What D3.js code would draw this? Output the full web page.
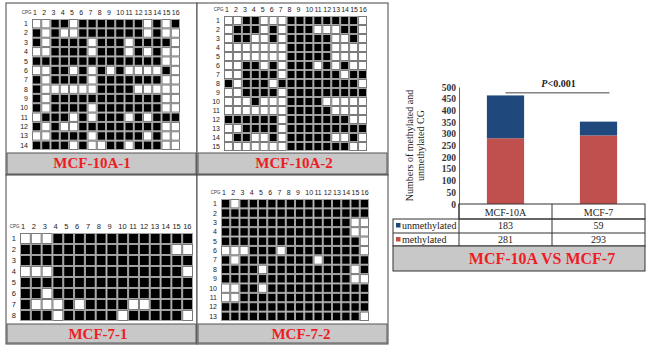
<!DOCTYPE html>
<html>
<head>
<meta charset="utf-8">
<script src="https://cdn.jsdelivr.net/npm/d3@7"></script>
<style>
  body { margin: 0; background: #fff; }
  svg { display: block; }
</style>
</head>
<body>
<svg id="fig" width="650" height="351"></svg>
<script>
// ---- methylation grids: 1 = methylated (black), 0 = unmethylated (white) ----
const grid10A1 = [
  '0011011111110101',
  '1010011111110100',
  '1011110111011110',
  '0011110111010100',
  '1111111111111100',
  '0011010101000010',
  '1011110111111100',
  '1000000111100000',
  '1011111111111100',
  '1011110111111100',
  '0111010111010111',
  '1010011111111100',
  '0011110111110100',
  '1111010011011100'
]
const grid10A2 = [
  '0011000111111110',
  '0111010111000110',
  '0110010111110010',
  '0000000111110000',
  '0000000111110000',
  '0011010111010100',
  '0011110111111011',
  '1011101111111110',
  '0011110111111111',
  '0001000111100000',
  '0000000111110000',
  '1111110111111100',
  '0011110111111111',
  '0110010111110010',
  '0000000111111100'
]
const grid7_1 = [
  '0001111111111111',
  '1111111111111100',
  '1111111111111111',
  '0001111111111110',
  '1111111111111111',
  '1101111111111111',
  '1000101111001111',
  '1110111110111110'
]
const grid7_2 = [
  '1011111111111111',
  '1111111111111111',
  '1111111111111100',
  '1111111111111100',
  '1111111111111110',
  '0001110111111110',
  '1011111111011111',
  '1111011111111101',
  '1111111111111100',
  '0011011111111111',
  '0011111111111111',
  '1111111111111111',
  '1111111111111110'
]
const cpgSites = d3.range(1, 17)

// ---- bar chart ----
const barCategories = ['MCF-10A', 'MCF-7']
const unmethylated = [183, 59]
const methylated = [281, 293]
const yTicks = [0, 50, 100, 150, 200, 250, 300, 350, 400, 450, 500]
const pLabel = 'P<0.001'

const SERIF = "'Liberation Serif', 'Times New Roman', serif"
const SANS = "'Liberation Sans', Arial, sans-serif"
const RED_TXT = '#ee1c25'
const BLUE = '#1f497d'
const RED = '#c0504d'
const GREY = '#c8c8c8'

const svg = d3.select('#fig')

/* ----------  PANEL FRAMES  ---------- */
const panels = [
  { x: 6, y: 3, w: 191, h: 172, barY: 153, label: 'MCF-10A-1', lx: 92, ly: 168 },
  { x: 197, y: 3, w: 191, h: 172, barY: 153, label: 'MCF-10A-2', lx: 294, ly: 168 },
  { x: 6, y: 175, w: 191, h: 169, barY: 324, label: 'MCF-7-1', lx: 98, ly: 339 },
  { x: 197, y: 175, w: 191, h: 169, barY: 324, label: 'MCF-7-2', lx: 301, ly: 339 }
]

panels.forEach(p => {
  svg.append('rect')
    .attr('x', p.x).attr('y', p.y)
    .attr('width', p.w).attr('height', p.h)
    .attr('fill', '#fff').attr('stroke', '#444').attr('stroke-width', 1)
  svg.append('rect')
    .attr('x', p.x + 1).attr('y', p.barY)
    .attr('width', p.w - 2).attr('height', p.y + p.h - p.barY - 1)
    .attr('fill', GREY).attr('stroke', '#555').attr('stroke-width', 1)
  svg.append('text')
    .attr('x', p.lx).attr('y', p.ly)
    .attr('text-anchor', 'middle')
    .style('font-family', SERIF).style('font-size', '15px').style('font-weight', 'bold')
    .attr('fill', RED_TXT)
    .text(p.label)
})

/* ----------  GRIDS  ---------- */
function drawGrid (rows, box) {
  const g = svg.append('g')
  const x = d3.scaleBand().domain(cpgSites).range([box.x0, box.x1])
  const y = d3.scaleBand().domain(d3.range(1, rows.length + 1)).range([box.y0, box.y1])

  // column header
  g.selectAll('text.col').data(cpgSites).join('text')
    .attr('x', d => x(d) + 1)
    .attr('y', box.y0 - 4)
    .style('font-family', SANS).style('font-size', box.fs + 'px')
    .attr('fill', '#222')
    .text(d => d)
  g.append('text')
    .attr('x', box.x0 - 0.5).attr('y', box.y0 - 5)
    .attr('text-anchor', 'end')
    .style('font-family', SANS).style('font-size', '4.5px')
    .attr('fill', '#333')
    .text('CPG')

  // row labels
  g.selectAll('text.row').data(y.domain()).join('text')
    .attr('x', box.x0 - 4)
    .attr('y', d => y(d) + y.bandwidth() / 2 + box.fs * 0.35)
    .attr('text-anchor', 'end')
    .style('font-family', SANS).style('font-size', box.fs + 'px')
    .attr('fill', '#222')
    .text(d => d)

  const cells = []
  rows.forEach((r, i) => r.split('').forEach((v, j) => cells.push({ row: i + 1, col: j + 1, m: v === '1' })))

  g.selectAll('rect.cell').data(cells).join('rect')
    .attr('x', d => x(d.col) + 0.5)
    .attr('y', d => y(d.row) + 0.5)
    .attr('width', x.bandwidth() - 1)
    .attr('height', y.bandwidth() - 1)
    .attr('fill', d => d.m ? '#000' : '#fff')
    .attr('stroke', d => d.m ? '#a0a0a0' : '#7a7a7a')
    .attr('stroke-width', 1)
}

drawGrid(grid10A1, { x0: 32, x1: 180, y0: 19, y1: 150, fs: 7 })
drawGrid(grid10A2, { x0: 224, x1: 367, y0: 16, y1: 151, fs: 7 })
drawGrid(grid7_1, { x0: 20, x1: 193, y0: 233, y1: 321, fs: 7.5 })
drawGrid(grid7_2, { x0: 221, x1: 369, y0: 199, y1: 321, fs: 7 })

/* ----------  STACKED BAR CHART  ---------- */
const barData = barCategories.map((c, i) => ({ cat: c, methylated: methylated[i], unmethylated: unmethylated[i] }))
const stack = d3.stack().keys(['methylated', 'unmethylated'])(barData)
const colors = { methylated: RED, unmethylated: BLUE }

const xCat = d3.scaleBand().domain(barCategories).range([459, 645])
const xBar = d3.scaleBand().domain(barCategories).range([459, 645]).paddingInner(0.6).paddingOuter(0.3)
const y = d3.scaleLinear().domain([0, 500]).range([204, 87])

const chart = svg.append('g')

stack.forEach(layer => {
  chart.selectAll(null).data(layer).join('rect')
    .attr('x', d => xBar(d.data.cat))
    .attr('y', d => y(d[1]))
    .attr('width', xBar.bandwidth())
    .attr('height', d => y(d[0]) - y(d[1]))
    .attr('fill', colors[layer.key])
})

const yAxis = chart.append('g')
  .attr('transform', 'translate(459,0)')
  .call(d3.axisLeft(y).tickValues(yTicks).tickSize(0).tickPadding(3))
yAxis.select('.domain').attr('stroke', '#666')
yAxis.selectAll('text')
  .style('font-family', SERIF).style('font-size', '9.5px').style('font-weight', 'bold')
  .attr('fill', '#333')

// axis title
const yTitle = chart.append('text')
  .attr('transform', `translate(413, ${(y(0) + y(500)) / 2}) rotate(-90)`)
  .attr('text-anchor', 'middle')
  .style('font-family', SERIF).style('font-size', '10px')
  .attr('fill', '#222')
yTitle.append('tspan').attr('x', 0).attr('dy', 0).text('Numbers of methylated and')
yTitle.append('tspan').attr('x', 0).attr('dy', 11).text('unmethylated CG')

// significance bar
const px1 = xBar(barCategories[0]) + xBar.bandwidth() / 2
const px2 = xBar(barCategories[1]) + xBar.bandwidth() / 2 + 11
chart.append('line')
  .attr('x1', px1).attr('x2', px2)
  .attr('y1', y(475)).attr('y2', y(475))
  .attr('stroke', '#444').attr('stroke-width', 1)
const pText = chart.append('text')
  .attr('x', (px1 + px2) / 2 + 1).attr('y', y(478) - 5)
  .attr('text-anchor', 'middle')
  .style('font-family', SERIF).style('font-size', '10px').style('font-weight', 'bold')
  .attr('fill', '#222')
pText.append('tspan').style('font-style', 'italic').text(pLabel.charAt(0))
pText.append('tspan').text(pLabel.slice(1))

/* ----------  DATA TABLE  ---------- */
const rowY = [204, 219, 233, 246, 271]
const tableLeft = 393
const table = svg.append('g')
  .style('font-family', SERIF).style('font-size', '10px')

// header row borders
table.append('rect')
  .attr('x', 459).attr('y', rowY[0]).attr('width', 186).attr('height', rowY[1] - rowY[0])
  .attr('fill', 'none').attr('stroke', '#333')
table.append('rect')
  .attr('x', tableLeft).attr('y', rowY[1]).attr('width', 645 - tableLeft).attr('height', rowY[3] - rowY[1])
  .attr('fill', 'none').attr('stroke', '#333')
table.append('line')
  .attr('x1', tableLeft).attr('x2', 645).attr('y1', rowY[2]).attr('y2', rowY[2]).attr('stroke', '#333')
barCategories.forEach((c, i) => {
  if (i === 0) return
  table.append('line')
    .attr('x1', xCat(c)).attr('x2', xCat(c)).attr('y1', rowY[0]).attr('y2', rowY[3]).attr('stroke', '#333')
})
table.append('line')
  .attr('x1', 459).attr('x2', 459).attr('y1', rowY[0]).attr('y2', rowY[3]).attr('stroke', '#333')

table.selectAll('text.cat').data(barCategories).join('text')
  .attr('x', d => xCat(d) + xCat.bandwidth() / 2)
  .attr('y', rowY[0] + 11.5)
  .attr('text-anchor', 'middle').attr('fill', '#222')
  .text(d => d)

const tableRows = [
  { key: 'unmethylated', values: unmethylated, color: BLUE },
  { key: 'methylated', values: methylated, color: RED }
]
tableRows.forEach((r, i) => {
  const base = rowY[i + 1] + 10
  table.append('rect')
    .attr('x', 396).attr('y', base - 6).attr('width', 4.5).attr('height', 4.5)
    .attr('fill', r.color)
  table.append('text')
    .attr('x', 402).attr('y', base).attr('fill', '#222')
    .text(r.key)
  table.selectAll(null).data(barCategories).join('text')
    .attr('x', d => xCat(d) + xCat.bandwidth() / 2)
    .attr('y', base)
    .attr('text-anchor', 'middle').attr('fill', '#222')
    .text((d, j) => r.values[j])
})

// title box
table.append('rect')
  .attr('x', tableLeft).attr('y', rowY[3]).attr('width', 645 - tableLeft).attr('height', rowY[4] - rowY[3])
  .attr('fill', GREY).attr('stroke', '#333')
table.append('text')
  .attr('x', 542).attr('y', 264)
  .attr('text-anchor', 'middle')
  .style('font-size', '16px').style('font-weight', 'bold')
  .attr('fill', RED_TXT)
  .text('MCF-10A VS MCF-7')
</script>
</body>
</html>
